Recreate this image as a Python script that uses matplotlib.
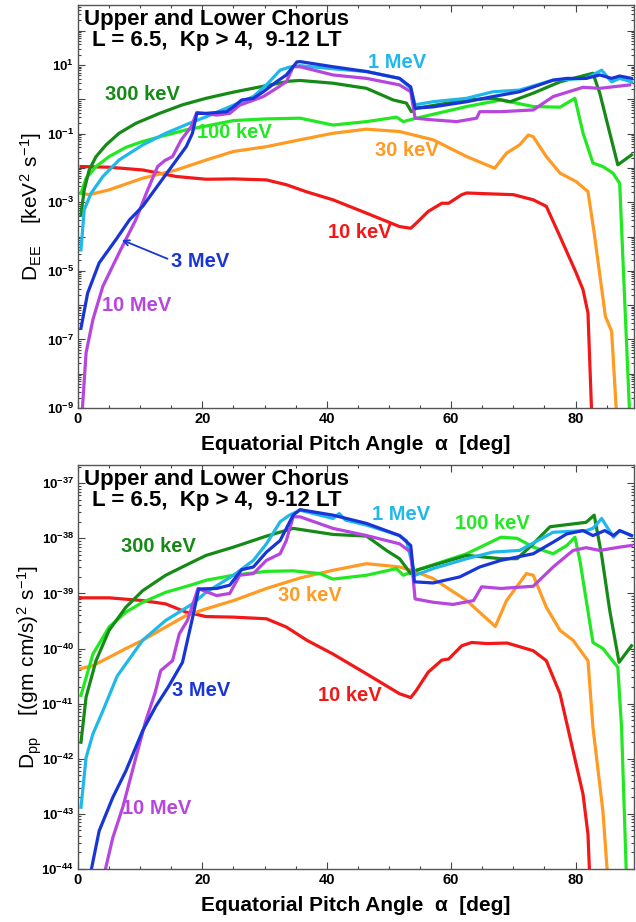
import numpy as np
import matplotlib
matplotlib.use("Agg")
import matplotlib.pyplot as plt
from matplotlib.ticker import LogLocator, FixedLocator, MultipleLocator, FuncFormatter, NullFormatter

plt.rcParams['font.family'] = ['Liberation Sans', 'DejaVu Sans']
plt.rcParams['font.weight'] = 'bold'
plt.rcParams['mathtext.fontset'] = 'custom'
plt.rcParams['mathtext.rm'] = 'Liberation Sans:bold'
plt.rcParams['mathtext.bf'] = 'Liberation Sans:bold'

# ---------------- data (log10 of diffusion coefficient) ----------------
# Top panel: D_EE [keV^2 s^-1]
ee_10keV_a = [0.5, 5.0, 10.4, 15.8, 20.6, 25, 30.3, 33.5, 36.8, 41, 46.4, 51.7, 53.5, 54.4, 56.3, 58.5, 59.6, 61.7, 62.5, 65.2, 70, 73.2, 75.3, 77.5, 80.1, 81.2, 82, 82.6]
ee_10keV_v = [-1.96, -1.98, -2.06, -2.25, -2.33, -2.32, -2.35, -2.49, -2.70, -2.93, -3.32, -3.71, -3.76, -3.61, -3.27, -3.03, -3.03, -2.78, -2.73, -2.75, -2.78, -2.93, -3.12, -4.0, -5.06, -5.55, -6.23, -9.2]
ee_30keV_a = [0.48, 1.8, 5.0, 10.4, 15.8, 20.6, 25, 30.3, 35.7, 41, 46.4, 51.7, 57.1, 62.5, 67, 68.9, 71, 72.4, 73.2, 75.3, 77.5, 80.1, 82, 83, 84.8, 85.8, 86.6]
ee_30keV_v = [-2.74, -2.78, -2.64, -2.30, -2.06, -1.77, -1.52, -1.38, -1.18, -0.99, -0.87, -0.94, -1.18, -1.67, -2.01, -1.57, -1.33, -1.04, -1.09, -1.67, -2.15, -2.40, -2.69, -3.9, -6.33, -6.76, -9.2]
ee_100keV_a = [0.48, 1.3, 2.9, 5.0, 7.7, 10.4, 13.6, 17.4, 20.0, 25, 30.3, 35.7, 41, 46.4, 51.2, 52.3, 54.4, 62.5, 68, 73.2, 77.5, 79.9, 81.2, 82.8, 84.4, 86, 87.1, 87.9, 88.7]
ee_100keV_v = [-2.74, -2.30, -1.96, -1.67, -1.40, -1.23, -1.07, -0.89, -0.80, -0.62, -0.57, -0.55, -0.75, -0.65, -0.52, -0.65, -0.55, -0.21, -0.02, -0.21, -0.23, 0.03, -0.98, -1.86, -1.96, -2.15, -2.45, -5.84, -9.2]
ee_300keV_a = [0.48, 1.0, 1.8, 2.9, 4.5, 6.6, 9.3, 13.1, 16.8, 20.6, 25, 30.3, 34, 35.7, 41, 46.4, 50.7, 52.8, 53.6, 54.4, 62.5, 66.7, 69.5, 73.2, 77.5, 82.8, 83.9, 85.5, 86.8, 89]
ee_300keV_v = [-3.37, -2.64, -2.06, -1.67, -1.33, -0.99, -0.70, -0.41, -0.16, 0.03, 0.21, 0.40, 0.53, 0.55, 0.47, 0.32, -0.02, -0.11, -0.36, -0.26, -0.02, 0.03, -0.07, 0.18, 0.51, 0.76, 0.18, -0.98, -1.91, -1.62]
ee_1MeV_a = [0.48, 1.0, 2.1, 4.0, 6.6, 10.4, 14.1, 17.9, 20.6, 25, 28.2, 30.3, 32.5, 34, 35.7, 41, 46.4, 51.7, 53.5, 54.2, 57.1, 62.5, 66.7, 71, 76.4, 81.7, 84.2, 85.8, 87.1, 89]
ee_1MeV_v = [-4.39, -3.22, -2.74, -2.25, -1.77, -1.33, -0.99, -0.70, -0.51, -0.17, 0.08, 0.42, 0.85, 0.94, 0.98, 0.89, 0.81, 0.61, 0.32, -0.16, -0.07, 0.03, 0.22, 0.27, 0.56, 0.61, 0.85, 0.51, 0.61, 0.51]
ee_3MeV_a = [0.48, 1.55, 3.4, 6.1, 8.3, 10.4, 14.5, 17.4, 18.4, 19.1, 20.5, 23.9, 25, 26.3, 28.2, 29.8, 31.9, 33.5, 35.2, 35.7, 41, 46.4, 51.7, 53.5, 54.2, 57.1, 62.5, 66.7, 71, 76.4, 78.6, 81.7, 83.9, 85.8, 87.1, 89]
ee_3MeV_v = [-6.67, -5.65, -4.77, -4.09, -3.51, -3.12, -2.10, -1.38, -0.99, -0.41, -0.41, -0.36, -0.22, -0.02, 0.03, 0.22, 0.51, 0.71, 1.09, 1.10, 0.95, 0.81, 0.61, 0.36, -0.26, -0.22, -0.07, 0.08, 0.22, 0.56, 0.61, 0.61, 0.71, 0.61, 0.68, 0.61]
ee_10MeV_a = [0.64, 1.3, 2.4, 4.0, 6.6, 9.3, 11.0, 12.8, 14.0, 15.2, 16.6, 18.2, 19.1, 22.3, 24.4, 26, 29.8, 31.9, 33.5, 34.6, 35.7, 41, 46.4, 51.7, 53.5, 54.2, 57.1, 60.9, 64.1, 64.6, 68, 73.2, 76.4, 81.2, 83.9, 88.7]
ee_10MeV_v = [-9.2, -7.39, -6.42, -5.45, -4.48, -3.51, -2.73, -1.96, -1.78, -1.67, -1.18, -0.80, -0.38, -0.46, -0.41, -0.17, 0.08, 0.32, 0.51, 0.95, 0.95, 0.71, 0.61, 0.42, 0.22, -0.55, -0.60, -0.65, -0.55, -0.36, -0.36, -0.31, 0.08, 0.35, 0.32, 0.42]

# Bottom panel: D_pp [(gm cm/s)^2 s^-1]
pp_10keV_a = [0.2, 5.0, 10.4, 14.1, 17.4, 20.6, 25, 30.3, 33.5, 36.8, 41, 46.4, 51.7, 53.5, 54.4, 56.3, 58.5, 59.6, 61.7, 63.3, 65.8, 69, 73.2, 75.3, 77.5, 80.1, 81.2, 82, 82.3]
pp_10keV_v = [-39.08, -39.08, -39.13, -39.19, -39.34, -39.42, -39.43, -39.46, -39.61, -39.85, -40.10, -40.46, -40.82, -40.89, -40.76, -40.43, -40.21, -40.19, -39.95, -39.89, -39.91, -39.90, -40.04, -40.22, -40.82, -42.10, -42.64, -43.37, -44.2]
pp_30keV_a = [0.2, 2.4, 5.0, 7.7, 10.4, 14.1, 17.4, 20.6, 25, 30.3, 35.7, 41, 46.4, 51.7, 54.4, 57.1, 62.5, 67.1, 68.9, 72.1, 73.2, 75.3, 77.5, 79.6, 82, 82.8, 84.4, 85.2]
pp_30keV_v = [-40.37, -40.31, -40.16, -40.0, -39.85, -39.61, -39.40, -39.28, -39.13, -38.91, -38.72, -38.58, -38.46, -38.52, -38.61, -38.73, -39.13, -39.60, -39.13, -38.64, -38.67, -39.25, -39.67, -39.85, -40.22, -41.43, -42.95, -44.2]
pp_100keV_a = [0.48, 2.4, 5.0, 7.7, 10.4, 14.1, 18.4, 20.6, 25, 30.3, 34.6, 38.9, 41, 46.4, 51.2, 52.3, 54.4, 62.5, 68, 70.6, 73.2, 76.4, 78.6, 79.9, 80.7, 82.8, 84.4, 86.8, 87.4, 88.2]
pp_100keV_v = [-40.85, -40.10, -39.61, -39.34, -39.16, -38.98, -38.84, -38.76, -38.67, -38.60, -38.59, -38.64, -38.74, -38.67, -38.55, -38.67, -38.58, -38.28, -37.98, -38.0, -38.16, -38.28, -38.13, -37.98, -38.40, -39.89, -40.0, -40.34, -41.43, -44.2]
pp_300keV_a = [0.48, 1.3, 2.9, 5.0, 7.7, 10.4, 14.1, 18.4, 20.6, 25, 30.3, 34.6, 41, 46.4, 49.6, 51.7, 53.5, 54.4, 62.5, 68, 70.6, 73.2, 75.9, 81.7, 83, 84.2, 85.5, 87, 89]
pp_300keV_v = [-41.70, -40.88, -40.22, -39.67, -39.25, -38.95, -38.67, -38.43, -38.31, -38.16, -37.96, -37.82, -37.93, -37.96, -38.22, -38.37, -38.64, -38.58, -38.31, -38.37, -38.37, -38.10, -37.79, -37.71, -37.58, -38.31, -39.31, -40.25, -39.95]
pp_1MeV_a = [0.48, 1.3, 2.4, 4.0, 6.3, 10.4, 14.1, 18.4, 20.6, 25, 28.2, 30.3, 32.5, 34, 35.7, 41, 42, 43, 46.4, 51.7, 52.8, 53.6, 54.2, 57.1, 62.5, 66.7, 71, 76.4, 81.7, 82.8, 84.2, 86.1, 87.1, 89]
pp_1MeV_v = [-42.88, -41.98, -41.55, -41.13, -40.50, -39.85, -39.49, -39.19, -38.98, -38.67, -38.40, -38.10, -37.70, -37.58, -37.49, -37.64, -37.55, -37.67, -37.76, -37.95, -38.04, -38.40, -38.67, -38.55, -38.37, -38.25, -38.22, -37.89, -37.86, -37.82, -37.64, -37.98, -37.86, -37.95]
pp_3MeV_a = [1.8, 3.4, 5.6, 7.7, 10.4, 12.5, 14.5, 16.8, 18.4, 19.4, 22.3, 24.4, 26.3, 28.2, 30.3, 32.5, 34.6, 35.7, 41, 46.4, 51.7, 53.5, 54.1, 57.1, 61.4, 64.6, 68, 73.2, 76.4, 78.6, 81.2, 82.8, 84.7, 86.1, 87.1, 89]
pp_3MeV_v = [-44.2, -43.31, -42.70, -42.22, -41.49, -41.05, -40.70, -40.25, -39.45, -38.92, -38.91, -38.85, -38.57, -38.52, -38.25, -38.04, -37.58, -37.48, -37.58, -37.73, -37.95, -38.13, -38.79, -38.81, -38.70, -38.52, -38.40, -38.28, -38.07, -37.92, -37.86, -37.95, -37.86, -37.95, -37.86, -37.95]
pp_10MeV_a = [4.0, 5.6, 7.2, 9.3, 10.9, 12.4, 13.3, 15.2, 16.3, 17.6, 19.3, 22.3, 24.4, 26, 28.2, 30.3, 32.5, 33.5, 34.6, 35.7, 41, 46.4, 51.7, 53.5, 54.2, 57.1, 60.3, 63.6, 64.9, 68, 73.2, 76.4, 79.6, 81.7, 83.9, 87.1, 89]
pp_10MeV_v = [-44.2, -43.43, -42.88, -41.98, -41.31, -40.80, -40.40, -40.22, -39.73, -39.49, -38.91, -39.04, -39.0, -38.67, -38.64, -38.40, -38.28, -38.04, -37.61, -37.61, -37.82, -37.95, -38.10, -38.25, -39.10, -39.16, -39.2, -39.13, -38.88, -38.91, -38.87, -38.52, -38.22, -38.17, -38.22, -38.16, -38.13]

energies = ['10 keV', '30 keV', '100 keV', '300 keV', '1 MeV', '3 MeV', '10 MeV']
colors = {'10 keV': '#f31818', '30 keV': '#ff9a22', '100 keV': '#22e822', '300 keV': '#168a16',
          '1 MeV': '#20b8ea', '3 MeV': '#1836d6', '10 MeV': '#b646de'}

top_series = {'10 keV': (ee_10keV_a, ee_10keV_v), '30 keV': (ee_30keV_a, ee_30keV_v),
              '100 keV': (ee_100keV_a, ee_100keV_v), '300 keV': (ee_300keV_a, ee_300keV_v),
              '1 MeV': (ee_1MeV_a, ee_1MeV_v), '3 MeV': (ee_3MeV_a, ee_3MeV_v),
              '10 MeV': (ee_10MeV_a, ee_10MeV_v)}
bot_series = {'10 keV': (pp_10keV_a, pp_10keV_v), '30 keV': (pp_30keV_a, pp_30keV_v),
              '100 keV': (pp_100keV_a, pp_100keV_v), '300 keV': (pp_300keV_a, pp_300keV_v),
              '1 MeV': (pp_1MeV_a, pp_1MeV_v), '3 MeV': (pp_3MeV_a, pp_3MeV_v),
              '10 MeV': (pp_10MeV_a, pp_10MeV_v)}

# label positions (deg, log10 value)
top_labels = {'300 keV': (10.4, 0.13), '100 keV': (25.2, -0.98), '3 MeV': (19.6, -4.74),
              '10 MeV': (9.5, -6.02), '1 MeV': (51.3, 1.06), '30 keV': (52.9, -1.50),
              '10 keV': (45.3, -3.89)}
bot_labels = {'300 keV': (12.9, -38.15), '3 MeV': (19.8, -40.76), '10 MeV': (12.7, -42.91),
              '30 keV': (37.3, -39.04), '1 MeV': (51.9, -37.56), '100 keV': (66.6, -37.73),
              '10 keV': (43.7, -40.85)}

title1 = 'Upper and Lower Chorus'
title2 = 'L = 6.5,  Kp > 4,  9-12 LT'
xlabel = 'Equatorial Pitch Angle  \u03b1  [deg]'

fig = plt.figure(figsize=(6.36, 9.22), dpi=100)
ax1 = fig.add_axes([78/636, 1-408/922, (634-78)/636, (408-5)/922])
ax2 = fig.add_axes([78/636, 1-869/922, (634-78)/636, (869-465)/922])

draw_order = ['10 keV', '30 keV', '100 keV', '300 keV', '1 MeV', '10 MeV', '3 MeV']


def style_axes(ax, ylo, yhi, label_exps):
    ax.set_yscale('log')
    ax.set_xlim(0, 89.4)
    ax.set_ylim(10.0**ylo, 10.0**yhi)
    ax.xaxis.set_major_locator(MultipleLocator(20))
    ax.xaxis.set_minor_locator(MultipleLocator(5))
    ax.yaxis.set_major_locator(FixedLocator([10.0**e for e in range(int(np.floor(ylo)), int(np.ceil(yhi)) + 1)]))
    ax.yaxis.set_minor_locator(LogLocator(base=10, subs=np.arange(2, 10), numticks=100))
    ax.yaxis.set_minor_formatter(NullFormatter())

    def fmt(v, pos):
        e = int(round(np.log10(v)))
        if e in label_exps:
            return r'$\mathdefault{10^{%d}}$' % e
        return ''
    ax.yaxis.set_major_formatter(FuncFormatter(fmt))
    ax.tick_params(which='both', direction='in', top=True, right=True,
                   color='#444444', width=0.8)
    ax.tick_params(axis='x', labelsize=10.5)
    ax.tick_params(axis='y', labelsize=9.5)
    ax.tick_params(which='major', length=5, pad=3)
    ax.tick_params(which='minor', length=2.5)
    for s in ax.spines.values():
        s.set_color('#555555')
        s.set_linewidth(1.0)
    ax.set_xlabel(xlabel, fontsize=15, fontweight='bold', labelpad=6)
    ax.text(0.25, 0.965, title1, transform=ax.transAxes, ha='center', va='center',
            fontsize=16, fontweight='bold')
    ax.text(0.25, 0.913, title2, transform=ax.transAxes, ha='center', va='center',
            fontsize=16, fontweight='bold')


for ax, series, labels in ((ax1, top_series, top_labels), (ax2, bot_series, bot_labels)):
    for name in draw_order:
        a, v = series[name]
        ax.plot(a, 10.0**np.array(v), color=colors[name], lw=2.3, solid_joinstyle='round')
    for name, (xa, yv) in labels.items():
        ax.text(xa, 10.0**yv, name, color=colors[name], fontsize=14.5, fontweight='bold',
                ha='center', va='center')

style_axes(ax1, -9, 2.75, [1, -1, -3, -5, -7, -9])
style_axes(ax2, -44, -36.67, list(range(-44, -36)))

ax1.annotate('', xy=(6.64, 10.0**-4.07), xytext=(14.8, 10.0**-4.68),
             arrowprops=dict(arrowstyle='->', color=colors['3 MeV'], lw=1.3))

ax1.set_ylabel(r'$\mathdefault{D_{EE}\quad[keV^{2}\ s^{-1}]}$', fontsize=15)
ax2.set_ylabel(r'$\mathdefault{D_{pp}\quad[(gm\ cm/s)^{2}\ s^{-1}]}$', fontsize=15)
ax1.yaxis.set_label_coords(-0.062, 0.5)
ax2.yaxis.set_label_coords(-0.062, 0.5)

fig.savefig('out.png', dpi=100)
